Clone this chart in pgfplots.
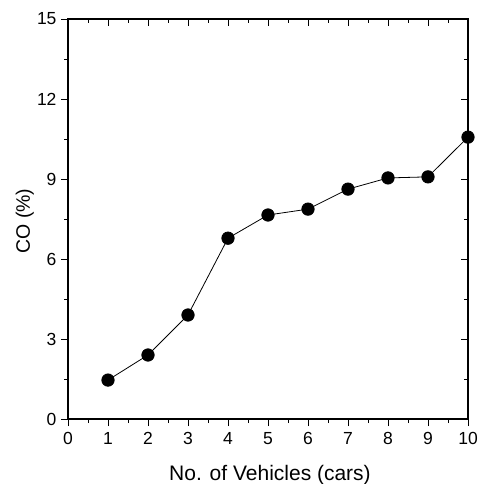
\documentclass[border=0pt]{standalone}
\usepackage{fontspec}
\setmainfont{Liberation Sans}
\usepackage{pgfplots}
\pgfplotsset{compat=1.18}
\pgfplotsset{
    coframe/.style={
        at={(0,0)}, anchor=south west,
        scale only axis,
        width=400pt, height=400pt,
        xmin=0, xmax=10, ymin=0, ymax=15,
        xtick={0,1,...,10}, ytick={0,3,...,15},
        minor x tick num=1, minor y tick num=1,
        tick style={black, line width=0.9pt},
        major tick length=7pt, minor tick length=4pt,
        axis line style={line width=1.2pt},
    },
}
\begin{document}
\begin{tikzpicture}[x=1pt,y=1pt]
% top and right ticks point inward
\begin{axis}[
    coframe,
    tick align=inside,
    xtick pos=right, ytick pos=right,
    xticklabels={}, yticklabels={},
]
\end{axis}
\begin{axis}[
    coframe,
    tick align=outside,
    xtick pos=left, ytick pos=left,
    /pgf/number format/assume math mode=true,
    tick label style={font=\fontsize{17.5}{20}\selectfont},
    xticklabel style={yshift=-3pt},
    yticklabel style={xshift=-1pt},
    label style={font=\fontsize{21}{24}\selectfont},
    xlabel={No. of Vehicles (cars)},
    ylabel={CO (\%)},
    xlabel style={at={([yshift=-61pt]axis description cs:0.505,0)}, anchor=base},
    ylabel style={at={([xshift=-38pt]axis description cs:0,0.495)}, anchor=base,
        font=\fontsize{19.5}{22}\selectfont},
    clip=false,
]
\addplot[black, line width=0.8pt, mark=*, mark size=6.2pt]
coordinates {(1,1.46)(2,2.40)(3,3.90)(4,6.78)(5,7.65)(6,7.87)(7,8.62)(8,9.04)(9,9.08)(10,10.57)};
\end{axis}
\pgfresetboundingbox
\useasboundingbox (-68,-65) rectangle (410,419);
\end{tikzpicture}
\end{document}
